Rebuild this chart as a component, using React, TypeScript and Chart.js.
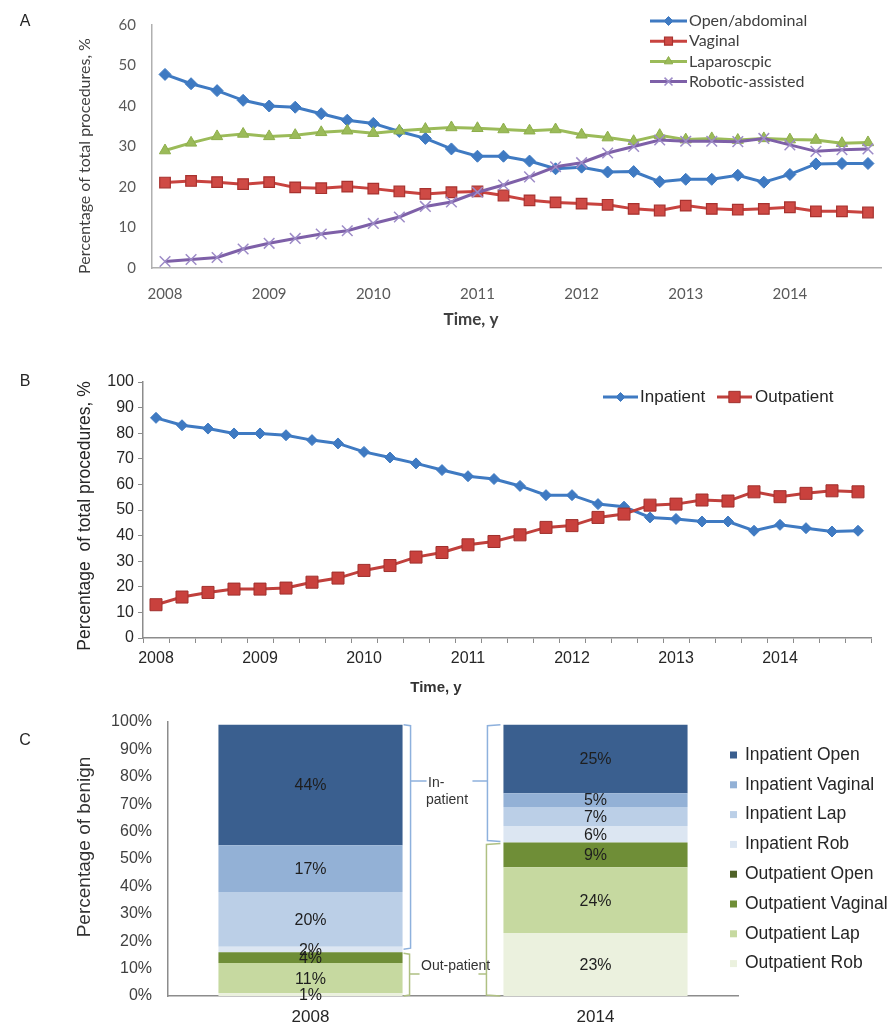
import { useEffect, useRef } from 'react';
import { Chart, registerables } from 'chart.js';

Chart.register(...registerables);

const W = 890;
const H = 1026;

// ---------- data ----------
const years = ['2008', '2009', '2010', '2011', '2012', '2013', '2014'];
const quarters = ['Q1', 'Q2', 'Q3', 'Q4'];
const periods = years.flatMap((y) => quarters.map((q) => `${y} ${q}`));

// A: share of procedures by surgical route, %
const openAbdominal = [47.8, 45.5, 43.8, 41.4, 40.0, 39.7, 38.1, 36.5, 35.7, 33.7, 32.0, 29.4, 27.6, 27.6, 26.4, 24.5, 24.9, 23.7, 23.8, 21.3, 21.9, 21.9, 22.9, 21.2, 23.1, 25.7, 25.8, 25.8];
const vaginal = [21.1, 21.5, 21.2, 20.7, 21.2, 19.9, 19.7, 20.1, 19.6, 18.9, 18.3, 18.7, 18.9, 17.9, 16.7, 16.2, 15.9, 15.6, 14.6, 14.2, 15.4, 14.6, 14.4, 14.6, 15.0, 14.0, 14.0, 13.7];
const laparoscopic = [29.0, 30.9, 32.5, 33.1, 32.5, 32.8, 33.5, 33.9, 33.3, 33.9, 34.3, 34.7, 34.5, 34.2, 33.9, 34.2, 32.9, 32.2, 31.3, 32.8, 31.7, 32.0, 31.6, 32.0, 31.7, 31.6, 30.8, 31.0];
const robotic = [1.6, 2.1, 2.6, 4.7, 6.1, 7.3, 8.4, 9.2, 11.0, 12.6, 15.2, 16.3, 18.7, 20.5, 22.5, 25.0, 26.0, 28.4, 30.0, 31.6, 31.3, 31.3, 31.2, 32.0, 30.4, 28.8, 29.2, 29.4];

// B: inpatient vs outpatient share, %
const inpatient = [86.0, 83.1, 81.8, 79.9, 79.9, 79.2, 77.3, 76.0, 72.7, 70.5, 68.2, 65.6, 63.2, 62.1, 59.4, 55.8, 55.8, 52.3, 51.3, 47.1, 46.5, 45.5, 45.5, 41.9, 44.2, 42.9, 41.6, 41.9];
const outpatient = [13.0, 16.0, 17.8, 19.1, 19.1, 19.5, 21.8, 23.4, 26.4, 28.3, 31.6, 33.4, 36.4, 37.7, 40.3, 43.2, 43.9, 47.1, 48.4, 51.9, 52.3, 53.9, 53.5, 57.1, 55.2, 56.5, 57.5, 57.1];

// C: composition of benign procedures, %
const stackYears = ['2008', '2014'];
const inpatientOpen = [44, 25];
const inpatientVaginal = [17, 5];
const inpatientLap = [20, 7];
const inpatientRob = [2, 6];
const outpatientOpen = [0, 0];
const outpatientVaginal = [4, 9];
const outpatientLap = [11, 24];
const outpatientRob = [1, 23];

const ARIAL = '"Liberation Sans", Arial, sans-serif';
const CAL = 'Lato, "Open Sans", sans-serif';

// ---------- drawing helpers ----------
function text(
  ctx: CanvasRenderingContext2D,
  str: string,
  x: number,
  y: number,
  font: string,
  color: string,
  align: CanvasTextAlign = 'left',
  rotate = 0
) {
  ctx.save();
  ctx.font = font;
  ctx.fillStyle = color;
  ctx.textAlign = align;
  ctx.textBaseline = 'middle';
  ctx.translate(x, y);
  if (rotate) ctx.rotate(rotate);
  ctx.fillText(str, 0, 0);
  ctx.restore();
}

function marker(
  ctx: CanvasRenderingContext2D,
  style: string,
  x: number,
  y: number,
  r: number,
  fill: string,
  stroke: string,
  lw: number
) {
  ctx.save();
  ctx.fillStyle = fill;
  ctx.strokeStyle = stroke;
  ctx.lineWidth = lw;
  ctx.beginPath();
  if (style === 'rectRot') {
    ctx.moveTo(x, y - r);
    ctx.lineTo(x + r, y);
    ctx.lineTo(x, y + r);
    ctx.lineTo(x - r, y);
    ctx.closePath();
    ctx.fill();
    if (lw) ctx.stroke();
  } else if (style === 'rect') {
    const s = r * Math.SQRT1_2;
    ctx.rect(x - s, y - s, 2 * s, 2 * s);
    ctx.fill();
    if (lw) ctx.stroke();
  } else if (style === 'triangle') {
    for (let k = 0; k < 3; k++) {
      const a = (k * 2 * Math.PI) / 3;
      const px = x + Math.sin(a) * r;
      const py = y - Math.cos(a) * r;
      if (k === 0) ctx.moveTo(px, py);
      else ctx.lineTo(px, py);
    }
    ctx.closePath();
    ctx.fill();
    if (lw) ctx.stroke();
  } else {
    const s = r * Math.SQRT1_2;
    ctx.moveTo(x - s, y - s);
    ctx.lineTo(x + s, y + s);
    ctx.moveTo(x + s, y - s);
    ctx.lineTo(x - s, y + s);
    ctx.stroke();
  }
  ctx.restore();
}

function lineSet(
  label: string,
  data: number[],
  color: string,
  pointStyle: string,
  pointRadius: number,
  pointFill: string,
  pointBorder: string,
  pointBorderWidth: number,
  order: number,
  borderWidth = 3
) {
  return {
    label,
    data,
    borderColor: color,
    backgroundColor: pointFill,
    borderWidth,
    pointStyle,
    pointRadius,
    pointHoverRadius: pointRadius,
    pointBackgroundColor: pointFill,
    pointBorderColor: pointBorder,
    pointBorderWidth,
    fill: false,
    tension: 0,
    order,
  };
}

function drawLineLegend(
  ctx: CanvasRenderingContext2D,
  ds: any,
  x0: number,
  x1: number,
  y: number,
  r: number,
  lw: number
) {
  ctx.save();
  ctx.strokeStyle = ds.borderColor;
  ctx.lineWidth = lw;
  ctx.beginPath();
  ctx.moveTo(x0, y);
  ctx.lineTo(x1, y);
  ctx.stroke();
  ctx.restore();
  marker(ctx, ds.pointStyle, (x0 + x1) / 2, y, r, ds.pointBackgroundColor, ds.pointBorderColor, ds.pointBorderWidth);
}

const yearTick = (_v: any, i: number) => (i % 4 === 0 ? years[i / 4] : '');

// ---------- panel A ----------
function drawPanelA(chart: Chart) {
  const ctx = chart.ctx;
  text(ctx, 'A', 25, 22, `16px ${ARIAL}`, '#262626', 'center');
  text(ctx, 'Percentage of total procedures, %', 85, 156, `16px ${CAL}`, '#404040', 'center', -Math.PI / 2);
  text(ctx, 'Time, y', 471, 320, `bold 17px ${CAL}`, '#404040', 'center');
  chart.data.datasets.forEach((ds: any, i) => {
    const y = 21 + i * 20.2;
    drawLineLegend(ctx, ds, 650, 687, y, ds.pointRadius * 0.75, 3);
    text(ctx, ds.label, 689, y, `16px ${CAL}`, '#404040');
  });
}

function buildA(canvas: HTMLCanvasElement) {
  return new Chart(canvas, {
    type: 'line',
    data: {
      labels: periods,
      datasets: [
        lineSet('Open/abdominal', openAbdominal, '#3F7AC2', 'rectRot', 6, '#3F7AC2', '#3F7AC2', 1, 4),
        lineSet('Vaginal', vaginal, '#C8433F', 'rect', 7.5, '#CF4A45', '#A8322F', 1.2, 3),
        lineSet('Laparoscpic', laparoscopic, '#9BBB59', 'triangle', 6.5, '#9BBB59', '#8DAE4B', 1, 2),
        lineSet('Robotic-assisted', robotic, '#7E60A8', 'crossRot', 7.5, '#9D8BC7', '#9D8BC7', 1.5, 1),
      ] as any,
    },
    options: {
      responsive: false,
      animation: false,
      layout: { padding: { top: 15, left: 0, right: 1, bottom: H - 268 - 72 } },
      plugins: { legend: { display: false }, tooltip: { enabled: false } },
      scales: {
        x: {
          type: 'category',
          offset: true,
          grid: { display: false, drawTicks: false },
          border: { display: true, color: '#B0B0B0', width: 1.5 },
          ticks: {
            autoSkip: false,
            maxRotation: 0,
            padding: 17,
            color: '#595959',
            font: { family: CAL, size: 15 },
            callback: yearTick,
          },
          afterFit: (s: any) => {
            s.height = 72;
          },
        },
        y: {
          min: 0,
          max: 60,
          grid: { display: false, drawTicks: false },
          border: { display: true, color: '#B0B0B0', width: 1.5 },
          ticks: { stepSize: 10, padding: 16, color: '#595959', font: { family: CAL, size: 15 } },
          afterFit: (s: any) => {
            s.width = 152;
          },
        },
      },
    } as any,
    plugins: [{ id: 'panelA', afterDraw: drawPanelA }],
  });
}

// ---------- panel B ----------
function drawPanelB(chart: Chart) {
  const ctx = chart.ctx;
  text(ctx, 'B', 25, 382, `16px ${ARIAL}`, '#262626', 'center');
  text(ctx, 'Percentage  of total procedures, %', 85, 516, `17.5px ${ARIAL}`, '#262626', 'center', -Math.PI / 2);
  text(ctx, 'Time, y', 436, 688, `bold 15px ${ARIAL}`, '#333333', 'center');
  const [inp, outp] = chart.data.datasets as any[];
  drawLineLegend(ctx, inp, 603, 638, 397, 4.5, 3);
  text(ctx, inp.label, 640, 397, `17px ${ARIAL}`, '#262626');
  drawLineLegend(ctx, outp, 717, 752, 397, 8, 3);
  text(ctx, outp.label, 755, 397, `17px ${ARIAL}`, '#262626');
}

function buildB(canvas: HTMLCanvasElement) {
  return new Chart(canvas, {
    type: 'line',
    data: {
      labels: periods,
      datasets: [
        lineSet('Inpatient', inpatient, '#3F7AC2', 'rectRot', 5.5, '#3F7AC2', '#3F7AC2', 1, 2, 3),
        lineSet('Outpatient', outpatient, '#C0403C', 'rect', 8.5, '#C9413D', '#A0302D', 1, 1, 3),
      ] as any,
    },
    options: {
      responsive: false,
      animation: false,
      layout: { padding: { top: 382, left: 0, right: 19, bottom: H - 638 - 62 } },
      plugins: { legend: { display: false }, tooltip: { enabled: false } },
      scales: {
        x: {
          type: 'category',
          offset: true,
          grid: { display: true, offset: true, drawOnChartArea: false, drawTicks: true, tickLength: 5, color: '#8C8C8C' },
          border: { display: true, color: '#8C8C8C', width: 1.5 },
          ticks: {
            autoSkip: false,
            maxRotation: 0,
            padding: 6,
            color: '#262626',
            font: { family: ARIAL, size: 16 },
            callback: yearTick,
          },
          afterFit: (s: any) => {
            s.height = 62;
          },
        },
        y: {
          min: 0,
          max: 100,
          grid: { display: true, drawOnChartArea: false, drawTicks: true, tickLength: 5, color: '#8C8C8C' },
          border: { display: true, color: '#8C8C8C', width: 1.5 },
          ticks: { stepSize: 10, padding: 4, color: '#262626', font: { family: ARIAL, size: 16 } },
          afterFit: (s: any) => {
            s.width = 143;
          },
        },
      },
    } as any,
    plugins: [{ id: 'panelB', afterDraw: drawPanelB }],
  });
}

// ---------- panel C ----------
const stackSets = [
  { label: 'Outpatient Rob', data: outpatientRob, color: '#EBF1DE' },
  { label: 'Outpatient Lap', data: outpatientLap, color: '#C6D9A0' },
  { label: 'Outpatient Vaginal', data: outpatientVaginal, color: '#6F8E37' },
  { label: 'Outpatient Open', data: outpatientOpen, color: '#4F6228' },
  { label: 'Inpatient Rob', data: inpatientRob, color: '#DCE6F2' },
  { label: 'Inpatient Lap', data: inpatientLap, color: '#BBCFE7' },
  { label: 'Inpatient Vaginal', data: inpatientVaginal, color: '#93B1D6' },
  { label: 'Inpatient Open', data: inpatientOpen, color: '#3A5F8F' },
];
const outpatientCount = 4;
const IN_TIP = 78.5;
const OUT_TIP = 8;

function drawBrace(
  ctx: CanvasRenderingContext2D,
  bx: number,
  edge: number,
  yTop: number,
  yBot: number,
  tipY: number,
  tipX: number,
  color: string
) {
  ctx.save();
  ctx.strokeStyle = color;
  ctx.lineWidth = 1.5;
  ctx.beginPath();
  ctx.moveTo(edge, yTop);
  ctx.lineTo(bx, yTop + 1);
  ctx.lineTo(bx, yBot - 1);
  ctx.lineTo(edge, yBot);
  ctx.moveTo(bx, tipY);
  ctx.lineTo(tipX, tipY);
  ctx.stroke();
  ctx.restore();
}

function drawPanelC(chart: Chart) {
  const ctx = chart.ctx;
  const yScale = chart.scales.y;
  text(ctx, 'C', 25, 741, `16px ${ARIAL}`, '#262626', 'center');
  text(ctx, 'Percentage of benign', 85, 847, `19px ${ARIAL}`, '#333333', 'center', -Math.PI / 2);

  // segment labels
  chart.data.datasets.forEach((ds: any, i) => {
    const meta = chart.getDatasetMeta(i);
    meta.data.forEach((bar: any, j: number) => {
      const v = ds.data[j];
      if (!v) return;
      const { x, y, base } = bar.getProps(['x', 'y', 'base'], true);
      text(ctx, `${v}%`, x, (y + base) / 2 + 1, `16px ${ARIAL}`, '#1E1E1E', 'center');
    });
  });

  // in-/out-patient braces
  const sums = stackYears.map((_, j) => {
    let out = 0;
    let all = 0;
    stackSets.forEach((s, k) => {
      all += s.data[j];
      if (k < outpatientCount) out += s.data[j];
    });
    return { out, all };
  });
  const y0 = yScale.getPixelForValue(0);
  const inTip = yScale.getPixelForValue(IN_TIP);
  const outTip = yScale.getPixelForValue(OUT_TIP);
  const meta = chart.getDatasetMeta(0);
  const barA: any = meta.data[0];
  const barB: any = meta.data[1];
  const rightA = barA.x + barA.width / 2;
  const leftB = barB.x - barB.width / 2;
  const inColor = '#8EB1DD';
  const outColor = '#AFC083';
  {
    const { out, all } = sums[0];
    const yTop = yScale.getPixelForValue(all);
    const yMid = yScale.getPixelForValue(out);
    drawBrace(ctx, rightA + 8, rightA + 1, yTop, yMid - 3, inTip, rightA + 24, inColor);
    drawBrace(ctx, rightA + 7, rightA + 1, yMid + 1, y0, outTip, rightA + 17, outColor);
  }
  {
    const { out, all } = sums[1];
    const yTop = yScale.getPixelForValue(all);
    const yMid = yScale.getPixelForValue(out);
    drawBrace(ctx, leftB - 16, leftB - 3, yTop, yMid - 1, inTip, leftB - 31, inColor);
    drawBrace(ctx, leftB - 17, leftB - 3, yMid + 1, y0, outTip, leftB - 25, outColor);
  }
  text(ctx, 'In-', 428, 783, `14px ${ARIAL}`, '#333333');
  text(ctx, 'patient', 426, 800, `14px ${ARIAL}`, '#333333');
  text(ctx, 'Out-patient', 421, 966, `14px ${ARIAL}`, '#333333');

  // legend, top entry = top of stack
  const items = [...stackSets].reverse();
  items.forEach((s, i) => {
    const y = 755 + i * 29.8;
    ctx.save();
    ctx.fillStyle = s.color;
    ctx.fillRect(730, y - 3.5, 7, 7);
    ctx.restore();
    text(ctx, s.label, 745, y, `17.5px ${ARIAL}`, '#262626');
  });
}

function buildC(canvas: HTMLCanvasElement) {
  return new Chart(canvas, {
    type: 'bar',
    data: {
      labels: stackYears,
      datasets: stackSets.map((s) => ({
        label: s.label,
        data: s.data,
        backgroundColor: s.color,
        borderWidth: 0,
        barPercentage: 0.646,
        categoryPercentage: 1,
      })),
    },
    options: {
      responsive: false,
      animation: false,
      layout: { padding: { top: 722, left: 0, right: 152, bottom: 0 } },
      plugins: { legend: { display: false }, tooltip: { enabled: false } },
      scales: {
        x: {
          stacked: true,
          grid: { display: false, drawTicks: false },
          border: { display: true, color: '#8C8C8C', width: 1.5 },
          ticks: { padding: 11, color: '#262626', font: { family: ARIAL, size: 17 } },
          afterFit: (s: any) => {
            s.height = 30;
          },
        },
        y: {
          stacked: true,
          min: 0,
          max: 100,
          grid: { display: false, drawTicks: false },
          border: { display: true, color: '#8C8C8C', width: 1.5 },
          ticks: {
            stepSize: 10,
            padding: 16,
            color: '#404040',
            font: { family: ARIAL, size: 16 },
            callback: (v: any) => `${v}%`,
          },
          afterFit: (s: any) => {
            s.width = 168;
          },
        },
      },
    } as any,
    plugins: [{ id: 'panelC', afterDraw: drawPanelC }],
  });
}

// ---------- components ----------
function ChartCanvas({ build }: { build: (c: HTMLCanvasElement) => Chart }) {
  const ref = useRef<HTMLCanvasElement>(null);
  useEffect(() => {
    const chart = build(ref.current as HTMLCanvasElement);
    return () => chart.destroy();
  }, [build]);
  return (
    <canvas
      ref={ref}
      width={W}
      height={H}
      style={{ position: 'absolute', left: 0, top: 0, width: W, height: H }}
    />
  );
}

export default function App() {
  return (
    <div style={{ position: 'absolute', left: 0, top: 0, width: W, height: H, background: '#ffffff', overflow: 'hidden' }}>
      <ChartCanvas build={buildA} />
      <ChartCanvas build={buildB} />
      <ChartCanvas build={buildC} />
    </div>
  );
}
